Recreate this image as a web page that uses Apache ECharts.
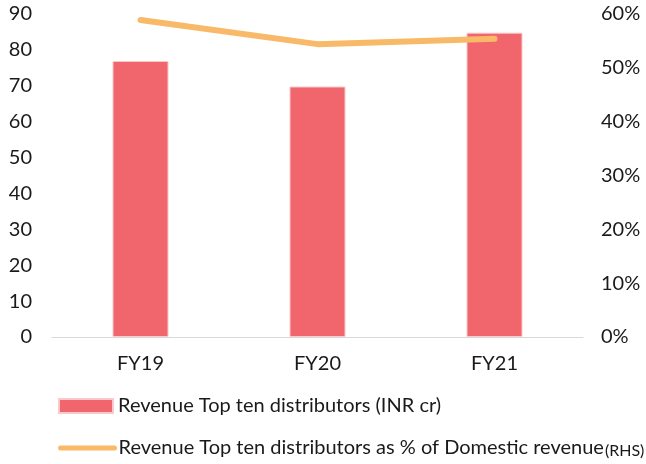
<!DOCTYPE html>
<html>
<head>
<meta charset="utf-8">
<script src="https://cdn.jsdelivr.net/npm/echarts@6/dist/echarts.min.js"></script>
<style>
  html, body { margin: 0; padding: 0; background: #fff; }
  #chart { width: 646px; height: 464px; }
</style>
</head>
<body>
<div id="chart"></div>
<script>
// data
const years = ['FY19', 'FY20', 'FY21']
const revenueTopTen = [76.9, 69.8, 84.8]
const shareOfDomestic = [58.9, 54.4, 55.4]
const leftTicks = [0, 90, 10]
const rightTicks = [0, 60, 10]

const barName = 'Revenue Top ten distributors (INR cr)'
const lineName = 'Revenue Top ten distributors as % of Domestic revenue'

const chart = echarts.init(document.getElementById('chart'))

const font = 'Lato, sans-serif'
const textColor = '#1a1a1a'

const option = {
    animation: false,
    textStyle: { fontFamily: font },
    grid: {
        left: 52,
        right: 63,
        top: 14,
        bottom: 127
    },
    legend: [
        {
            left: 53,
            top: 391,
            itemWidth: 54,
            itemHeight: 14,
            itemGap: 0,
            textStyle: { fontFamily: font, fontSize: 20, color: textColor },
            data: [{ name: barName, icon: 'rect' }]
        },
        {
            left: 53,
            top: 433,
            itemWidth: 54,
            itemHeight: 14,
            textStyle: {
                fontFamily: font,
                fontSize: 20,
                color: textColor,
                padding: [0, 0, 0, -1],
                rich: {
                    small: { fontFamily: font, fontSize: 16, color: textColor, padding: [6, 0, 0, 1] }
                }
            },
            formatter: function (name) {
                return name + '{small|(RHS)}'
            },
            data: [{
                name: lineName,
                itemStyle: { opacity: 0 },
                lineStyle: { width: 5, cap: 'round', color: '#f8b968' }
            }]
        }
    ],
    xAxis: {
        type: 'category',
        data: years,
        axisLine: { lineStyle: { color: '#d9d9d9', width: 1 } },
        axisTick: { show: false },
        axisLabel: { color: textColor, fontSize: 20, margin: 17 }
    },
    yAxis: [
        {
            type: 'value',
            min: leftTicks[0],
            max: leftTicks[1],
            interval: leftTicks[2],
            splitLine: { show: false },
            axisLine: { show: false },
            axisTick: { show: false },
            axisLabel: { color: textColor, fontSize: 20, margin: 20 }
        },
        {
            type: 'value',
            min: rightTicks[0],
            max: rightTicks[1],
            interval: rightTicks[2],
            splitLine: { show: false },
            axisLine: { show: false },
            axisTick: { show: false },
            axisLabel: { color: textColor, fontSize: 20, margin: 18, formatter: '{value}%' }
        }
    ],
    series: [
        {
            name: barName,
            type: 'bar',
            data: revenueTopTen,
            barWidth: 56,
            itemStyle: {
                color: '#f1666d',
                borderColor: '#f9c9cb',
                borderWidth: 1
            }
        },
        {
            name: lineName,
            type: 'line',
            yAxisIndex: 1,
            data: shareOfDomestic,
            symbol: 'none',
            lineStyle: { color: '#f8b968', width: 6, cap: 'round' },
            itemStyle: { color: '#f8b968' }
        }
    ]
}

chart.setOption(option)
</script>
</body>
</html>
